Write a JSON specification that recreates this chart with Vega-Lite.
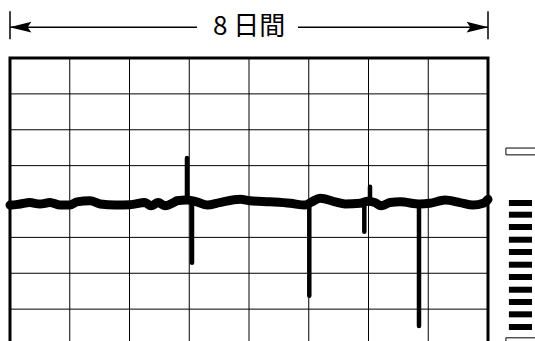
{
  "$schema": "https://vega.github.io/schema/vega-lite/v6.json",
  "width": 478,
  "height": 287,
  "autosize": {"type": "none"},
  "padding": {"left": 10, "top": 58, "right": 47, "bottom": 0},
  "background": "white",
  "config": {
    "view": {"stroke": "black", "strokeWidth": 3},
    "axis": {"disable": true}
  },
  "datasets": {
    "grid": [{"k": 0}, {"k": 1}, {"k": 2}, {"k": 3}, {"k": 4}, {"k": 5}, {"k": 6}, {"k": 7}, {"k": 8}],
    "wave": [
      {"day": 0, "v": 3.90}, {"day": 0.03, "v": 3.90}, {"day": 0.17, "v": 3.93}, {"day": 0.33, "v": 3.97},
      {"day": 0.50, "v": 3.93}, {"day": 0.67, "v": 3.97}, {"day": 0.84, "v": 3.90}, {"day": 1.00, "v": 3.90},
      {"day": 1.12, "v": 3.99}, {"day": 1.34, "v": 4.02}, {"day": 1.51, "v": 3.93}, {"day": 1.76, "v": 3.90},
      {"day": 2.01, "v": 3.91}, {"day": 2.26, "v": 3.97}, {"day": 2.36, "v": 3.88}, {"day": 2.48, "v": 3.97},
      {"day": 2.59, "v": 3.88}, {"day": 2.76, "v": 3.99}, {"day": 2.79, "v": 4.02}, {"day": 2.96, "v": 4.04},
      {"day": 3.13, "v": 3.99}, {"day": 3.30, "v": 3.90}, {"day": 3.51, "v": 3.97}, {"day": 3.85, "v": 4.06},
      {"day": 4.02, "v": 4.02}, {"day": 4.35, "v": 3.99}, {"day": 4.69, "v": 3.95}, {"day": 4.94, "v": 3.90},
      {"day": 5.05, "v": 3.99}, {"day": 5.19, "v": 4.09}, {"day": 5.44, "v": 3.99}, {"day": 5.61, "v": 3.93},
      {"day": 5.86, "v": 3.95}, {"day": 5.99, "v": 4.01}, {"day": 6.11, "v": 3.97}, {"day": 6.21, "v": 3.88},
      {"day": 6.36, "v": 3.97}, {"day": 6.53, "v": 3.99}, {"day": 6.86, "v": 3.93}, {"day": 7.03, "v": 3.95},
      {"day": 7.28, "v": 4.04}, {"day": 7.53, "v": 3.97}, {"day": 7.75, "v": 3.90}, {"day": 7.92, "v": 3.95},
      {"day": 8.0, "v": 4.06}
    ],
    "spikes": [
      {"day": 2.962, "from": 4.0, "to": 5.21},
      {"day": 3.046, "from": 4.0, "to": 2.29},
      {"day": 5.009, "from": 3.95, "to": 1.37},
      {"day": 6.025, "from": 3.98, "to": 4.41},
      {"day": 5.93, "from": 3.98, "to": 3.16},
      {"day": 6.845, "from": 3.93, "to": 0.53}
    ],
    "ladder": [
      {"level": 3.958}, {"level": 3.632}, {"level": 3.289}, {"level": 2.935}, {"level": 2.592},
      {"level": 2.238}, {"level": 1.895}, {"level": 1.541}, {"level": 1.198}, {"level": 0.855}, {"level": 0.501}
    ],
    "boxes": [
      {"x1": 8.30, "x2": 8.95, "y1": 5.30, "y2": 5.49},
      {"x1": 8.30, "x2": 8.95, "y1": -0.2, "y2": 0.20}
    ],
    "annot": [{"day": 4.0, "v": 8.86, "label": "8 日間"}],
    "arrowlines": [
      {"a": 0, "b": 3.13, "v": 8.86},
      {"a": 4.82, "b": 8.0, "v": 8.86}
    ],
    "endticks": [
      {"day": 0, "lo": 8.52, "hi": 9.30},
      {"day": 8.0, "lo": 8.52, "hi": 9.30}
    ],
    "headL": [{"day": 0.175, "v": 8.86}],
    "headR": [{"day": 7.825, "v": 8.86}]
  },
  "layer": [
    {
      "data": {"name": "grid"},
      "mark": {"type": "rule", "color": "black", "strokeWidth": 1},
      "encoding": {
        "x": {"field": "k", "type": "quantitative", "scale": {"domain": [0, 8], "nice": false, "zero": false}}
      }
    },
    {
      "data": {"name": "grid"},
      "mark": {"type": "rule", "color": "black", "strokeWidth": 1},
      "encoding": {
        "y": {"field": "k", "type": "quantitative", "scale": {"domain": [0, 8], "nice": false, "zero": false}}
      }
    },
    {
      "data": {"name": "wave"},
      "mark": {"type": "line", "color": "black", "strokeWidth": 9, "interpolate": "monotone", "strokeCap": "round", "strokeJoin": "round"},
      "encoding": {
        "x": {"field": "day", "type": "quantitative"},
        "y": {"field": "v", "type": "quantitative"}
      }
    },
    {
      "data": {"name": "spikes"},
      "mark": {"type": "rule", "color": "black", "strokeWidth": 4.5, "strokeCap": "round"},
      "encoding": {
        "x": {"field": "day", "type": "quantitative"},
        "y": {"field": "from", "type": "quantitative"},
        "y2": {"field": "to"}
      }
    },
    {
      "data": {"name": "ladder"},
      "mark": {"type": "rect", "color": "black", "height": 6},
      "encoding": {
        "x": {"datum": 8.35, "type": "quantitative"},
        "x2": {"datum": 8.736},
        "y": {"field": "level", "type": "quantitative"}
      }
    },
    {
      "data": {"name": "boxes"},
      "mark": {"type": "rect", "fill": "white", "stroke": "black", "strokeWidth": 1},
      "encoding": {
        "x": {"field": "x1", "type": "quantitative"},
        "x2": {"field": "x2"},
        "y": {"field": "y1", "type": "quantitative"},
        "y2": {"field": "y2"}
      }
    },
    {
      "data": {"name": "arrowlines"},
      "mark": {"type": "rule", "color": "black", "strokeWidth": 1.5},
      "encoding": {
        "x": {"field": "a", "type": "quantitative"},
        "x2": {"field": "b"},
        "y": {"field": "v", "type": "quantitative"}
      }
    },
    {
      "data": {"name": "endticks"},
      "mark": {"type": "rule", "color": "black", "strokeWidth": 1.5},
      "encoding": {
        "x": {"field": "day", "type": "quantitative"},
        "y": {"field": "lo", "type": "quantitative"},
        "y2": {"field": "hi"}
      }
    },
    {
      "data": {"name": "headL"},
      "mark": {"type": "point", "shape": "M-1,0 L1,-0.5 L0.65,0 L1,0.5 Z", "filled": true, "color": "black", "size": 480, "opacity": 1, "strokeWidth": 0},
      "encoding": {
        "x": {"field": "day", "type": "quantitative"},
        "y": {"field": "v", "type": "quantitative"}
      }
    },
    {
      "data": {"name": "headR"},
      "mark": {"type": "point", "shape": "M1,0 L-1,-0.5 L-0.65,0 L-1,0.5 Z", "filled": true, "color": "black", "size": 480, "opacity": 1, "strokeWidth": 0},
      "encoding": {
        "x": {"field": "day", "type": "quantitative"},
        "y": {"field": "v", "type": "quantitative"}
      }
    },
    {
      "data": {"name": "annot"},
      "mark": {"type": "text", "font": "Noto Sans CJK JP", "fontSize": 26, "color": "black", "align": "center", "baseline": "middle"},
      "encoding": {
        "x": {"field": "day", "type": "quantitative"},
        "y": {"field": "v", "type": "quantitative"},
        "text": {"field": "label"}
      }
    }
  ]
}
